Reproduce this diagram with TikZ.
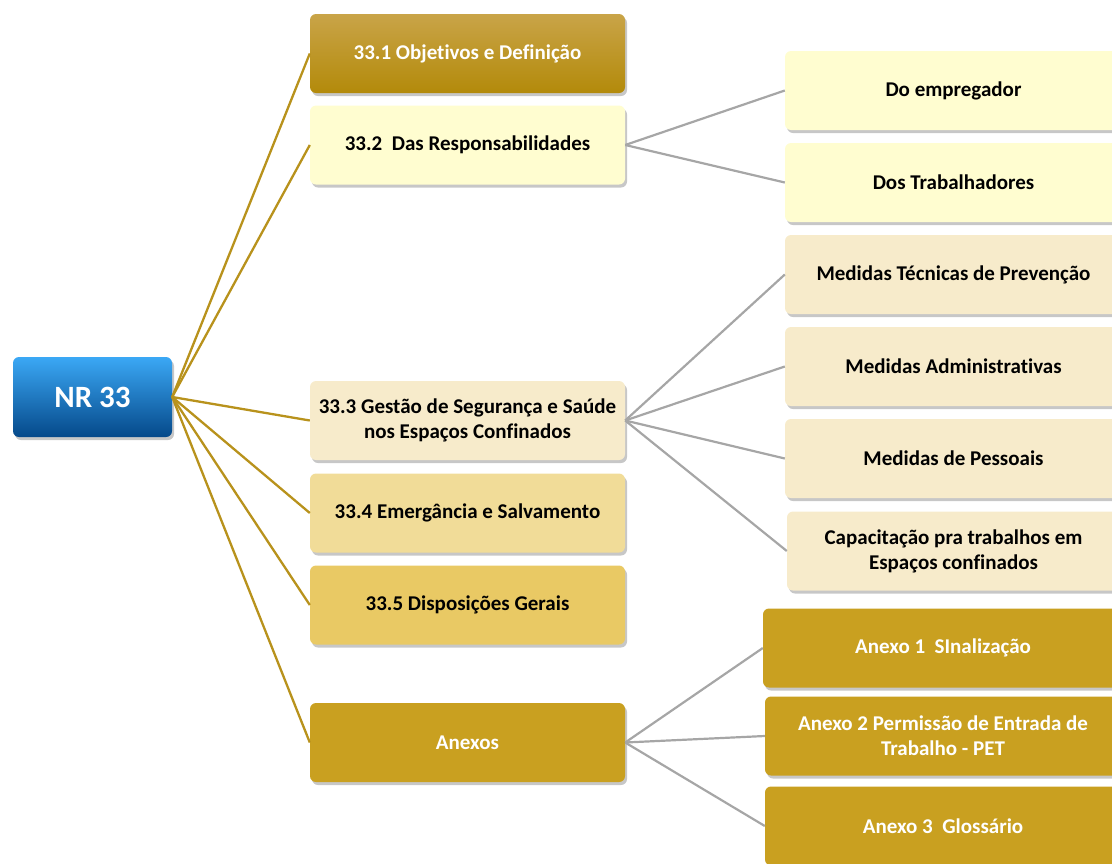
\documentclass[tikz,border=0pt]{standalone}
\usepackage{fontspec}
\setmainfont{Carlito}[Ligatures={NoCommon}]
\usetikzlibrary{shadows}
\definecolor{goldline}{HTML}{B8921C}
\definecolor{greyline}{HTML}{A6A6A6}
\definecolor{cA}{HTML}{FFFDD0}
\definecolor{cB}{HTML}{F7EBCB}
\definecolor{cC}{HTML}{F1DC98}
\definecolor{cD}{HTML}{E9C964}
\definecolor{cE}{HTML}{C9A020}
\definecolor{goldtop}{HTML}{C9A448}
\definecolor{goldbot}{HTML}{B38A0A}
\definecolor{bluetop}{HTML}{3BA8F5}
\definecolor{bluebot}{HTML}{05498A}
\tikzset{
  box/.style={rectangle, rounded corners=6pt, minimum height=79pt, inner sep=2pt,
    align=center, font=\bfseries\fontsize{21}{25}\selectfont,
    drop shadow={shadow xshift=2pt, shadow yshift=-3pt, opacity=0.22, fill=black}},
  midbox/.style={box, minimum width=315pt},
  rightbox/.style={box, minimum width=337pt},
  gl/.style={draw=goldline, line width=2.3pt},
  gr/.style={draw=greyline, line width=2.2pt},
}
\begin{document}
\begin{tikzpicture}[x=1pt,y=-1pt]
\useasboundingbox (0,0) rectangle (1112,863);
\clip (0,0) rectangle (1112,863);
% root
\node[box, minimum width=159pt, minimum height=80pt, top color=bluetop, bottom color=bluebot,
  text=white, font=\bfseries\fontsize{31}{35}\selectfont] (nr) at (92.5,397) {NR 33};
% middle column
\node[midbox, top color=goldtop, bottom color=goldbot, text=white] (m1) at (467.5,53.5) {33.1 Objetivos e Definição};
\node[midbox, fill=cA] (m2) at (467.5,145) {33.2\ \ Das Responsabilidades};
\node[midbox, fill=cB] (m3) at (467.5,420.5) {33.3 Gestão de Segurança e Saúde\\nos Espaços Confinados};
\node[midbox, fill=cC] (m4) at (467.5,513) {33.4 Emergância e Salvamento};
\node[midbox, fill=cD] (m5) at (467.5,605) {33.5 Disposições Gerais};
\node[midbox, fill=cE, text=white] (ma) at (467.5,742.5) {Anexos};
% right column
\node[rightbox, fill=cA] (r1) at (953.5,90.5) {Do empregador};
\node[rightbox, fill=cA] (r2) at (953.5,182.5) {Dos Trabalhadores};
\node[rightbox, fill=cB] (r3) at (953.5,274.5) {Medidas Técnicas de Prevenção};
\node[rightbox, fill=cB] (r4) at (953.5,366.5) {Medidas Administrativas};
\node[rightbox, fill=cB] (r5) at (953.5,458.5) {Medidas de Pessoais};
\node[rightbox, fill=cB, minimum width=333pt] (r6) at (953.5,551) {Capacitação pra trabalhos em\\Espaços confinados};
\node[rightbox, fill=cE, text=white, minimum width=360pt] (a1) at (943,648) {Anexo 1\ \ SInalização};
\node[rightbox, fill=cE, text=white, minimum width=356pt] (a2) at (943,736) {Anexo 2 Permissão de Entrada de\\Trabalho - PET};
\node[rightbox, fill=cE, text=white, minimum width=356pt] (a3) at (943,826) {Anexo 3\ \ Glossário};
% connectors
\foreach \m in {m1,m2,m3,m4,m5,ma} \draw[gl] (nr.east) -- (\m.west);
\draw[gr] (m2.east) -- (r1.west);
\draw[gr] (m2.east) -- (r2.west);
\foreach \r in {r3,r4,r5,r6} \draw[gr] (m3.east) -- (\r.west);
\foreach \a in {a1,a2,a3} \draw[gr] (ma.east) -- (\a.west);
\end{tikzpicture}
\end{document}
